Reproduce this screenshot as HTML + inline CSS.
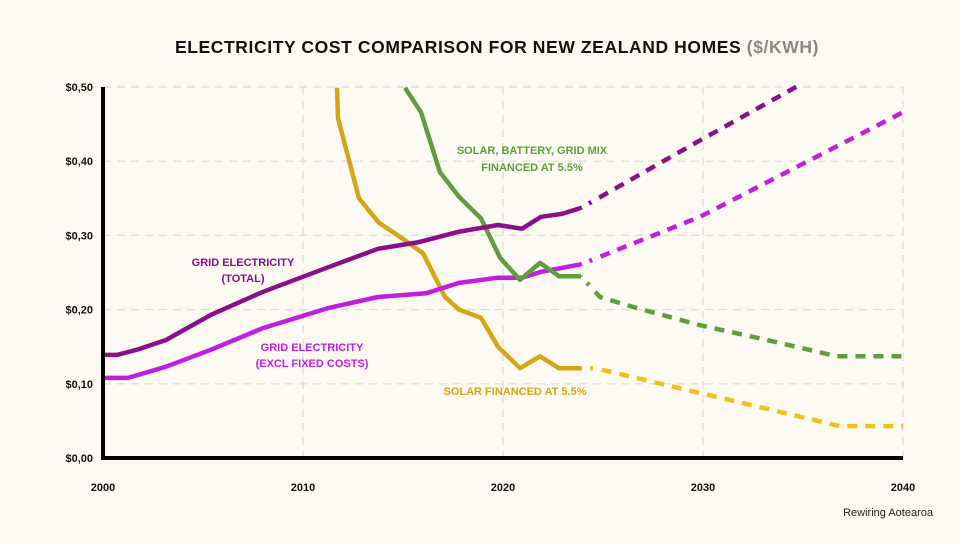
<!DOCTYPE html>
<html><head><meta charset="utf-8">
<style>
html,body{margin:0;padding:0;background:#fcfaf3;}
body{width:960px;height:540px;overflow:hidden;font-family:"Liberation Sans",sans-serif;}
svg text{font-family:"Liberation Sans",sans-serif;}
</style></head>
<body>
<svg id="chart" width="960" height="540" viewBox="0 0 960 540" xmlns="http://www.w3.org/2000/svg">
<rect x="0" y="0" width="960" height="540" fill="#fcfaf3"/>
<text x="497" y="53" text-anchor="middle" font-size="17.5" font-weight="bold" letter-spacing="0.6" fill="#111">ELECTRICITY COST COMPARISON FOR NEW ZEALAND HOMES <tspan fill="#888">($/KWH)</tspan></text>
<g id="grid"></g>
<g id="series"></g>
<g id="axes"></g>
<g font-size="11" font-weight="bold" text-anchor="middle">
<text x="243" y="266" fill="#8a0f8a">GRID ELECTRICITY</text>
<text x="243" y="282" fill="#8a0f8a">(TOTAL)</text>
<text x="312" y="351" fill="#c01ee0">GRID ELECTRICITY</text>
<text x="312" y="367" fill="#c01ee0">(EXCL FIXED COSTS)</text>
<text x="532" y="154" fill="#5f9e3c">SOLAR, BATTERY, GRID MIX</text>
<text x="532" y="171" fill="#5f9e3c">FINANCED AT 5.5%</text>
<text x="515" y="395" fill="#d4a514">SOLAR FINANCED AT 5.5%</text>
</g>
<text x="933" y="516" text-anchor="end" font-size="11" fill="#222">Rewiring Aotearoa</text>
</svg>
<script>
const xTicks = [2000, 2010, 2020, 2030, 2040];
const yTicks = [0, 0.1, 0.2, 0.3, 0.4, 0.5];
const yTickLabels = ["$0,00", "$0,10", "$0,20", "$0,30", "$0,40", "$0,50"];

const totalYears = [2000, 2000.7, 2001.7, 2003.15, 2005.4, 2008, 2011.25, 2013.75, 2015.8, 2017.8, 2019.75, 2020.95, 2021.9, 2022.95, 2023.9];
const totalValues = [0.139, 0.139, 0.146, 0.159, 0.193, 0.224, 0.257, 0.282, 0.291, 0.305, 0.314, 0.309, 0.325, 0.329, 0.337];
const totalProjYears = [2023.9, 2029.85, 2034.85];
const totalProjValues = [0.337, 0.428, 0.503];

const exclYears = [2000, 2001.25, 2003.15, 2005.4, 2008, 2011.25, 2013.75, 2016.15, 2017.8, 2019.75, 2020.95, 2021.9, 2023.9];
const exclValues = [0.108, 0.108, 0.123, 0.146, 0.175, 0.202, 0.217, 0.222, 0.236, 0.243, 0.243, 0.251, 0.261];
const exclProjYears = [2023.9, 2029.85, 2040];
const exclProjValues = [0.261, 0.325, 0.466];

const greenYears = [2015.1, 2015.9, 2016.85, 2017.8, 2018.9, 2019.85, 2020.85, 2021.85, 2022.8, 2023.9];
const greenValues = [0.499, 0.466, 0.385, 0.352, 0.323, 0.27, 0.24, 0.263, 0.245, 0.245];
const greenProjYears = [2023.9, 2024.85, 2026.7, 2029.85, 2033.2, 2036.7, 2040];
const greenProjValues = [0.245, 0.217, 0.202, 0.179, 0.159, 0.137, 0.137];

const solarYears = [2011.7, 2011.75, 2012.8, 2013.8, 2014.85, 2016, 2017.1, 2017.8, 2018.9, 2019.75, 2020.85, 2021.85, 2022.8, 2023.9];
const solarValues = [0.499, 0.458, 0.35, 0.317, 0.298, 0.276, 0.217, 0.2, 0.189, 0.15, 0.121, 0.137, 0.121, 0.121];
const solarProjYears = [2023.9, 2024.6, 2036.85, 2040];
const solarProjValues = [0.121, 0.121, 0.043, 0.043];

const NS = "http://www.w3.org/2000/svg";
const X0 = 103, X1 = 903, Y0 = 458, Y1 = 87;
function xs(yr){ return X0 + (yr - 2000) / 40 * (X1 - X0); }
function ys(v){ return Y0 - v / 0.5 * (Y0 - Y1); }
function mk(tag, attrs, parent){
  const e = document.createElementNS(NS, tag);
  for (const k in attrs) e.setAttribute(k, attrs[k]);
  parent.appendChild(e); return e;
}
const grid = document.getElementById('grid');
const axes = document.getElementById('axes');
const series = document.getElementById('series');

yTicks.forEach((v, i) => {
  if (v > 0) {
    const l = mk('line', {x1: X0, x2: X1, y1: ys(v), y2: ys(v), stroke: '#dedbd3', 'stroke-width': 1.2, 'stroke-dasharray': '8 6'}, grid);
    
    
  }
  const t = mk('text', {x: 93, y: ys(v) + 4, 'text-anchor': 'end', 'font-size': 11, 'font-weight': 'bold', fill: '#111'}, axes);
  t.textContent = yTickLabels[i];
  
  
});
xTicks.forEach(yr => {
  if (yr > 2000) {
    const l = mk('line', {x1: xs(yr), x2: xs(yr), y1: Y1, y2: Y0, stroke: '#dedbd3', 'stroke-width': 1.2, 'stroke-dasharray': '8 6'}, grid);
    
    
  }
  const t = mk('text', {x: xs(yr), y: 491, 'text-anchor': 'middle', 'font-size': 11, 'font-weight': 'bold', fill: '#111'}, axes);
  t.textContent = yr;
  
  
});
const ya = mk('line', {x1: X0, x2: X0, y1: Y1, y2: Y0 + 2, stroke: '#000', 'stroke-width': 4}, axes);


const xa = mk('line', {x1: X0 - 2, x2: X1, y1: Y0, y2: Y0, stroke: '#000', 'stroke-width': 4}, axes);



function pts(xsArr, vsArr){ return xsArr.map((x, i) => xs(x).toFixed(1) + ',' + ys(vsArr[i]).toFixed(1)).join(' '); }
function line(xsArr, vsArr, color, dashed, name){
  const attrs = {points: pts(xsArr, vsArr), fill: 'none', stroke: color, 'stroke-width': 4.5, 'stroke-linejoin': 'round'};
  if (dashed) { attrs['stroke-dasharray'] = '3 9' + ' 10 8'.repeat(40); attrs['stroke-dashoffset'] = -9; }
  const p = mk('polyline', attrs, series);
  
  
}
line(solarYears, solarValues, '#d4a514', false, 'solar-line');
line(solarProjYears, solarProjValues, '#f2c21a', true, 'solar-projection');
line(exclYears, exclValues, '#c01ee0', false, 'grid-excl-line');
line(exclProjYears, exclProjValues, '#c01ee0', true, 'grid-excl-projection');
line(greenYears, greenValues, '#5f9e3c', false, 'solar-battery-line');
line(greenProjYears, greenProjValues, '#5f9e3c', true, 'solar-battery-projection');
line(totalYears, totalValues, '#8a0f8a', false, 'grid-total-line');
line(totalProjYears, totalProjValues, '#8a0f8a', true, 'grid-total-projection');
</script>
</body></html>
